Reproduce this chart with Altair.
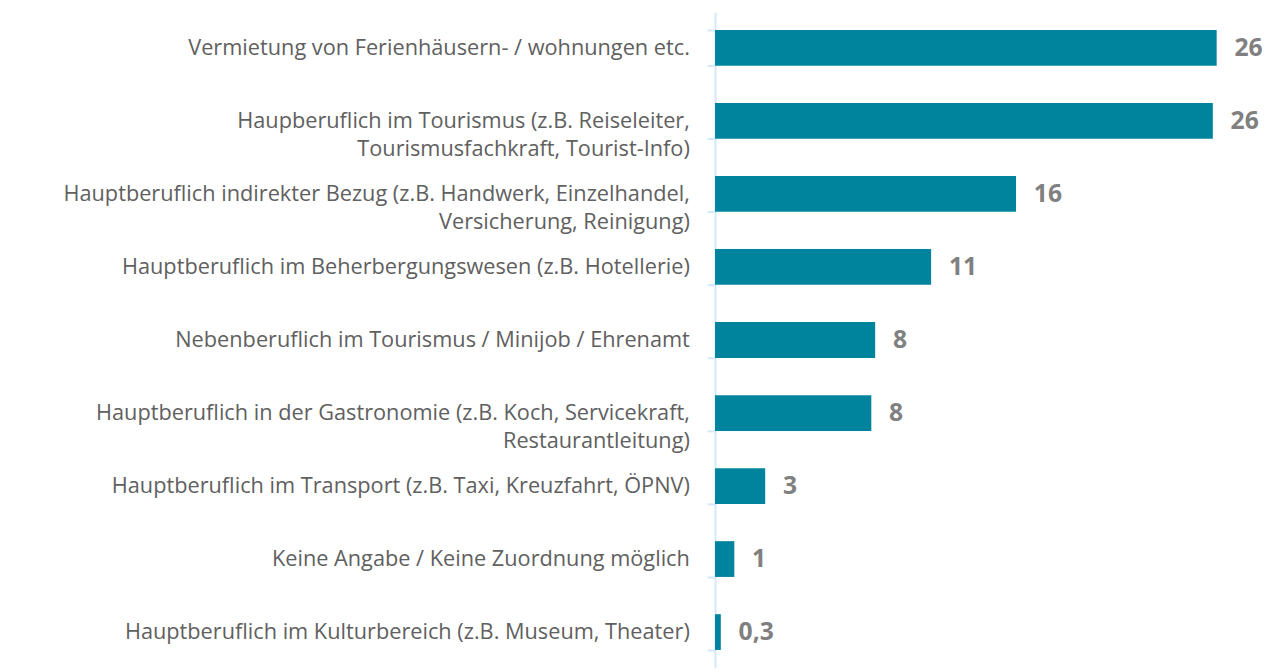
import altair as alt
import pandas as pd

categories = [
    "Vermietung von Ferienhäusern- / wohnungen etc.",
    "Haupberuflich im Tourismus (z.B. Reiseleiter,\nTourismusfachkraft, Tourist-Info)",
    "Hauptberuflich indirekter Bezug (z.B. Handwerk, Einzelhandel,\nVersicherung, Reinigung)",
    "Hauptberuflich im Beherbergungswesen (z.B. Hotellerie)",
    "Nebenberuflich im Tourismus / Minijob / Ehrenamt",
    "Hauptberuflich in der Gastronomie (z.B. Koch, Servicekraft,\nRestaurantleitung)",
    "Hauptberuflich im Transport (z.B. Taxi, Kreuzfahrt, ÖPNV)",
    "Keine Angabe / Keine Zuordnung möglich",
    "Hauptberuflich im Kulturbereich (z.B. Museum, Theater)",
]
values = [26.0, 25.8, 15.6, 11.2, 8.3, 8.1, 2.6, 1.0, 0.3]
value_labels = ["26", "26", "16", "11", "8", "8", "3", "1", "0,3"]

df = pd.DataFrame({"cat": categories, "val": values, "lbl": value_labels})

y = alt.Y(
    "cat:N",
    sort=categories,
    scale=alt.Scale(paddingInner=0.51, paddingOuter=0.245),
    axis=alt.Axis(
        title=None,
        labelExpr="split(datum.label, '\\n')",
        labelFont="Open Sans",
        labelFontSize=22,
        labelColor="#606060",
        labelLineHeight=28,
        labelPadding=18,
        labelLimit=700,
        tickBand="extent",
        tickSize=8,
        tickColor="#D3E8F8",
        tickWidth=2,
        domainColor="#D3E8F8",
        domainWidth=2,
    ),
)
x = alt.X(
    "val:Q",
    scale=alt.Scale(domain=[0, 28.66], nice=False),
    axis=None,
)

bars = alt.Chart(df).mark_bar(color="#00849E").encode(x=x, y=y)
text = alt.Chart(df).mark_text(
    align="left", baseline="middle", dx=18, font="Open Sans",
    fontSize=25, fontWeight="bold", color="#808080"
).encode(x=x, y=y, text="lbl:N")

chart = (bars + text).properties(
    width=560,
    height=664,
    autosize=alt.AutoSizeParams(type="none"),
    padding={"left": 716, "top": 0, "right": 0, "bottom": 0},
).configure_view(stroke=None)

chart.save("out.html", embed_options={"renderer": "svg", "actions": False})
